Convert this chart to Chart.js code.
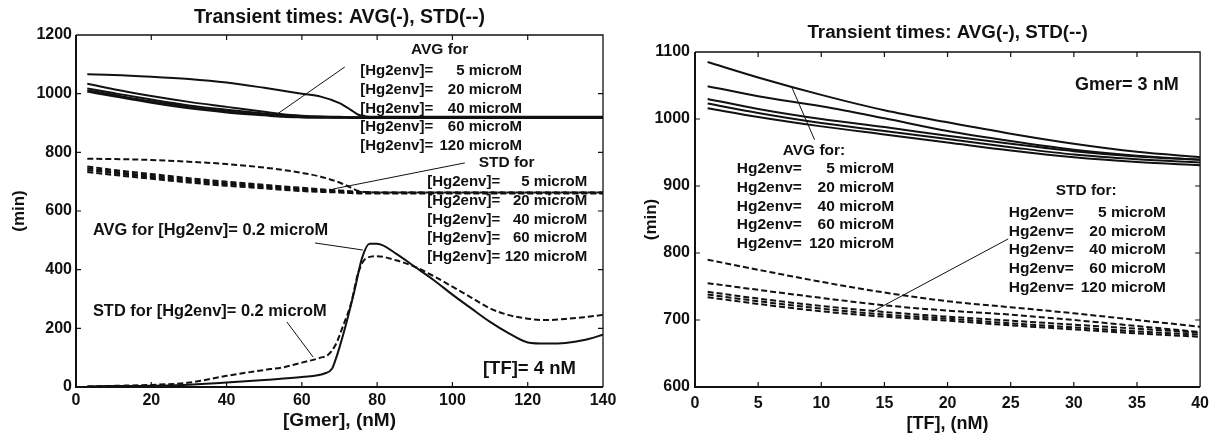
<!DOCTYPE html>
<html>
<head>
<meta charset="utf-8">
<script src="https://cdn.jsdelivr.net/npm/chart.js@4.4.1/dist/chart.umd.min.js"></script>
<style>
  html, body { margin: 0; padding: 0; background: #fff; overflow: hidden; }
  #wrap { position: relative; width: 1211px; height: 434px; }
  canvas { position: absolute; top: 0; }
  #gmerChart { left: 0; }
  #tfChart { left: 626px; }
</style>
</head>
<body>
<div id="wrap">
  <canvas id="gmerChart" width="626" height="434"></canvas>
  <canvas id="tfChart" width="590" height="434"></canvas>
</div>
<script>
// ---- left panel: transient times vs [Gmer], [TF] = 4 nM ----
const gmerX = [3, 10, 20, 30, 40, 50, 55, 60, 65, 70, 73, 75, 78, 80, 90, 100, 110, 120, 130, 140];

const avgGmer5   = [1066, 1064, 1058, 1050, 1038, 1020, 1010, 1000, 990, 968, 945, 928, 921, 921, 921, 921, 921, 921, 921, 921];
const avgGmer20  = [1034, 1015, 992, 972, 955, 938, 930, 925, 922, 921, 920, 920, 920, 920, 920, 920, 920, 920, 920, 920];
const avgGmer40  = [1018, 1002, 980, 960, 945, 932, 926, 922, 921, 920, 920, 919, 919, 919, 919, 919, 919, 919, 919, 919];
const avgGmer60  = [1012, 996, 974, 955, 940, 929, 924, 921, 920, 919, 919, 918, 918, 918, 918, 918, 918, 918, 918, 918];
const avgGmer120 = [1007, 991, 969, 950, 936, 926, 921, 919, 918, 918, 917, 917, 917, 917, 917, 917, 917, 917, 917, 917];

const stdGmer5   = [778, 777, 774, 768, 760, 748, 740, 730, 717, 697, 680, 668, 664, 663, 663, 663, 663, 663, 663, 663];
const stdGmer20  = [752, 740, 726, 712, 700, 689, 684, 679, 674, 670, 667, 665, 664, 663, 663, 663, 663, 663, 663, 663];
const stdGmer40  = [746, 734, 720, 707, 695, 685, 680, 675, 671, 668, 665, 664, 663, 662, 662, 662, 662, 662, 662, 662];
const stdGmer60  = [740, 729, 715, 702, 691, 681, 676, 672, 668, 665, 663, 662, 661, 661, 661, 661, 661, 661, 661, 661];
const stdGmer120 = [733, 723, 710, 697, 686, 677, 672, 668, 665, 663, 661, 660, 660, 660, 660, 660, 660, 660, 660, 660];

// [Hg2env] = 0.2 microM
const avgLowX = [3, 10, 20, 30, 40, 50, 60, 66, 68, 69, 70, 72, 74, 76, 78, 80, 85, 90, 95, 100, 105, 110, 115, 120, 125, 130, 135, 140];
const avgLow  = [2, 3, 4, 8, 15, 24, 34, 46, 62, 95, 135, 227, 330, 440, 488, 488, 455, 410, 365, 315, 268, 222, 183, 152, 148, 150, 160, 178];
const stdLowX = [3, 10, 20, 30, 40, 50, 55, 60, 65, 67, 69, 71, 73, 75, 77, 80, 85, 90, 95, 100, 105, 110, 115, 120, 125, 130, 135, 140];
const stdLow  = [2, 4, 7, 15, 38, 58, 67, 83, 100, 110, 145, 210, 282, 390, 438, 446, 432, 410, 378, 342, 305, 268, 245, 233, 228, 232, 238, 246];

// pointer lines from the text blocks to the curves
const leadAvgGmerX = [71.4, 52.4],  leadAvgGmerY = [1091, 921];
const leadStdGmerX = [103.3, 68.3], leadStdGmerY = [764, 675];
const leadAvgLowX  = [63.5, 76.2],  leadAvgLowY  = [491, 467];
const leadStdLowX  = [56, 63],      leadStdLowY  = [222, 102];

// ---- right panel: transient times vs [TF], Gmer = 3 nM ----
const tfX = [1, 5, 10, 15, 20, 25, 30, 35, 40];

const avgTf5   = [1085, 1062, 1036, 1013, 995, 978, 963, 951, 943];
const avgTf20  = [1049, 1034, 1019, 1001, 982, 967, 954, 945, 939];
const avgTf40  = [1030, 1015, 1000, 988, 975, 963, 952, 944, 939];
const avgTf60  = [1023, 1009, 994, 982, 970, 958, 947, 940, 935];
const avgTf120 = [1016, 1003, 989, 977, 965, 953, 943, 936, 931];

const stdTf5   = [790, 775, 757, 741, 728, 719, 710, 700, 690];
const stdTf20  = [755, 745, 733, 722, 714, 708, 700, 691, 682];
const stdTf40  = [742, 732, 721, 712, 705, 699, 693, 687, 681];
const stdTf60  = [738, 728, 717, 708, 702, 695, 689, 683, 678];
const stdTf120 = [734, 724, 713, 705, 699, 692, 686, 680, 675];

const leadAvgTfX = [7.65, 9.47], leadAvgTfY = [1048, 969];
const leadStdTfX = [24.8, 14.0], leadStdTfY = [821, 712];

const hgLevels = [5, 20, 40, 60, 120];

const INK = '#111';
const FONT = '"Liberation Sans", Arial, Helvetica, sans-serif';

const zip = (xs, ys) => xs.map((x, i) => ({ x: x, y: ys[i] }));

function solid(label, xs, ys) {
  return { label, data: zip(xs, ys), borderColor: INK, borderWidth: 2, pointRadius: 0,
           cubicInterpolationMode: 'monotone', fill: false };
}
function dashed(label, xs, ys) {
  return Object.assign(solid(label, xs, ys), { borderDash: [6, 3] });
}
function leader(label, xs, ys) {
  return { label, data: zip(xs, ys), borderColor: INK, borderWidth: 1, pointRadius: 0, tension: 0, fill: false };
}

// frame, inward ticks, title and text notes, drawn on top of the lines
const notesPlugin = {
  id: 'notes',
  afterDraw(chart, args, opts) {
    const { ctx, chartArea: a, scales: { x, y } } = chart;
    ctx.save();
    ctx.strokeStyle = INK;
    ctx.lineWidth = 2;
    ctx.beginPath();
    ctx.moveTo(a.left, a.top); ctx.lineTo(a.left, a.bottom); ctx.lineTo(a.right, a.bottom);
    ctx.stroke();
    ctx.lineWidth = 1.3;
    ctx.beginPath();
    ctx.moveTo(a.left, a.top); ctx.lineTo(a.right, a.top); ctx.lineTo(a.right, a.bottom);
    ctx.stroke();

    const len = 5;
    ctx.lineWidth = 1.2;
    ctx.beginPath();
    x.ticks.forEach(t => {
      const px = x.getPixelForValue(t.value);
      if (px < a.left + 2 || px > a.right - 2) return;
      ctx.moveTo(px, a.bottom); ctx.lineTo(px, a.bottom - len);
      ctx.moveTo(px, a.top); ctx.lineTo(px, a.top + len);
    });
    y.ticks.forEach(t => {
      const py = y.getPixelForValue(t.value);
      if (py < a.top + 2 || py > a.bottom - 2) return;
      ctx.moveTo(a.left, py); ctx.lineTo(a.left + len, py);
      ctx.moveTo(a.right, py); ctx.lineTo(a.right - len, py);
    });
    ctx.stroke();

    ctx.fillStyle = INK;
    ctx.textBaseline = 'middle';
    ctx.font = 'bold ' + opts.titleSize + 'px ' + FONT;
    ctx.textAlign = 'center';
    ctx.fillText(opts.title, (a.left + a.right) / 2, opts.titleY);

    opts.heads.forEach(h => {
      ctx.font = 'bold ' + (h.size || 15.5) + 'px ' + FONT;
      ctx.textAlign = h.align;
      ctx.fillText(h.text, x.getPixelForValue(h.x), y.getPixelForValue(h.y));
    });

    opts.lists.forEach(l => {
      ctx.font = 'bold ' + l.size + 'px ' + FONT;
      const x0 = x.getPixelForValue(l.x0), x1 = x.getPixelForValue(l.x1);
      const y0 = y.getPixelForValue(l.y);
      hgLevels.forEach((v, i) => {
        const py = y0 + i * 18.7;
        ctx.textAlign = 'left';
        ctx.fillText(l.prefix, x0, py);
        ctx.textAlign = 'right';
        ctx.fillText(v + ' microM', x1, py);
      });
    });
    ctx.restore();
  }
};

function axes(c) {
  const tickFont = { family: FONT, size: 16, weight: 'bold' };
  return {
    x: {
      type: 'linear', min: c.xMin, max: c.xMax,
      ticks: { stepSize: c.xStep, font: tickFont, color: INK, padding: c.xTickPad, callback: v => String(v) },
      grid: { display: false, drawTicks: false }, border: { display: false },
      title: { display: true, text: c.xTitle, color: INK,
               font: { family: FONT, size: c.xTitleSize, weight: 'bold', lineHeight: 1 },
               padding: { top: 0, bottom: c.xTitlePad } },
      afterFit: s => { s.height = 47; }
    },
    y: {
      type: 'linear', min: c.yMin, max: c.yMax,
      ticks: { stepSize: c.yStep, font: tickFont, color: INK, padding: c.yTickPad, callback: v => String(v) },
      grid: { display: false, drawTicks: false }, border: { display: false },
      title: { display: true, text: '(min)', color: INK,
               font: { family: FONT, size: 17, weight: 'bold', lineHeight: 1 },
               padding: { top: c.yTitlePad, bottom: 0 } },
      afterFit: s => { s.width = c.yWidth; }
    }
  };
}

new Chart(document.getElementById('gmerChart'), {
  type: 'line',
  data: {
    datasets: [
      solid('AVG 5', gmerX, avgGmer5),
      solid('AVG 20', gmerX, avgGmer20),
      solid('AVG 40', gmerX, avgGmer40),
      solid('AVG 60', gmerX, avgGmer60),
      solid('AVG 120', gmerX, avgGmer120),
      dashed('STD 5', gmerX, stdGmer5),
      dashed('STD 20', gmerX, stdGmer20),
      dashed('STD 40', gmerX, stdGmer40),
      dashed('STD 60', gmerX, stdGmer60),
      dashed('STD 120', gmerX, stdGmer120),
      solid('AVG 0.2', avgLowX, avgLow),
      dashed('STD 0.2', stdLowX, stdLow),
      leader('lead AVG', leadAvgGmerX, leadAvgGmerY),
      leader('lead STD', leadStdGmerX, leadStdGmerY),
      leader('lead AVG 0.2', leadAvgLowX, leadAvgLowY),
      leader('lead STD 0.2', leadStdLowX, leadStdLowY)
    ]
  },
  options: {
    responsive: false, animation: false, devicePixelRatio: 1,
    layout: { padding: { top: 35, right: 23, bottom: 0, left: 0 } },
    plugins: {
      legend: { display: false }, tooltip: { enabled: false },
      notes: {
        title: 'Transient times: AVG(-), STD(--)', titleY: 18, titleSize: 19.5,
        heads: [
          { text: 'AVG for', x: 96.6, y: 1149, align: 'center' },
          { text: 'STD for', x: 114.4, y: 764, align: 'center' },
          { text: 'AVG for [Hg2env]= 0.2 microM', x: 4.5, y: 532, align: 'left', size: 16.4 },
          { text: 'STD for [Hg2env]= 0.2 microM', x: 4.5, y: 259, align: 'left', size: 16.4 },
          { text: '[TF]= 4 nM', x: 108.1, y: 61, align: 'left', size: 18.5 }
        ],
        lists: [
          { prefix: '[Hg2env]=', x0: 75.5, x1: 118.5, y: 1077, size: 15 },
          { prefix: '[Hg2env]=', x0: 93.3, x1: 135.8, y: 699, size: 15 }
        ]
      }
    },
    scales: axes({ xMin: 0, xMax: 140, xStep: 20, yMin: 0, yMax: 1200, yStep: 200,
                   xTitle: '[Gmer], (nM)', xTitleSize: 19, xTitlePad: 3.5, xTickPad: 4,
                   yWidth: 76, yTickPad: 4, yTitlePad: 10.5 })
  },
  plugins: [notesPlugin]
});

new Chart(document.getElementById('tfChart'), {
  type: 'line',
  data: {
    datasets: [
      solid('AVG 5', tfX, avgTf5),
      solid('AVG 20', tfX, avgTf20),
      solid('AVG 40', tfX, avgTf40),
      solid('AVG 60', tfX, avgTf60),
      solid('AVG 120', tfX, avgTf120),
      dashed('STD 5', tfX, stdTf5),
      dashed('STD 20', tfX, stdTf20),
      dashed('STD 40', tfX, stdTf40),
      dashed('STD 60', tfX, stdTf60),
      dashed('STD 120', tfX, stdTf120),
      leader('lead AVG', leadAvgTfX, leadAvgTfY),
      leader('lead STD', leadStdTfX, leadStdTfY)
    ]
  },
  options: {
    responsive: false, animation: false, devicePixelRatio: 1,
    layout: { padding: { top: 52, right: 14, bottom: 0, left: 0 } },
    plugins: {
      legend: { display: false }, tooltip: { enabled: false },
      notes: {
        title: 'Transient times: AVG(-), STD(--)', titleY: 33, titleSize: 18.8,
        heads: [
          { text: 'Gmer= 3 nM', x: 30.1, y: 1051, align: 'left', size: 18 },
          { text: 'AVG for:', x: 6.94, y: 952, align: 'left' },
          { text: 'STD for:', x: 28.56, y: 893, align: 'left' }
        ],
        lists: [
          { prefix: 'Hg2env=', x0: 3.31, x1: 15.78, y: 925.4, size: 15.5 },
          { prefix: 'Hg2env=', x0: 24.85, x1: 37.3, y: 860.4, size: 15.5 }
        ]
      }
    },
    scales: axes({ xMin: 0, xMax: 40, xStep: 5, yMin: 600, yMax: 1100, yStep: 100,
                   xTitle: '[TF], (nM)', xTitleSize: 18, xTitlePad: 1, xTickPad: 7,
                   yWidth: 69, yTickPad: 5, yTitlePad: 16.5 })
  },
  plugins: [notesPlugin]
});
</script>
</body>
</html>
